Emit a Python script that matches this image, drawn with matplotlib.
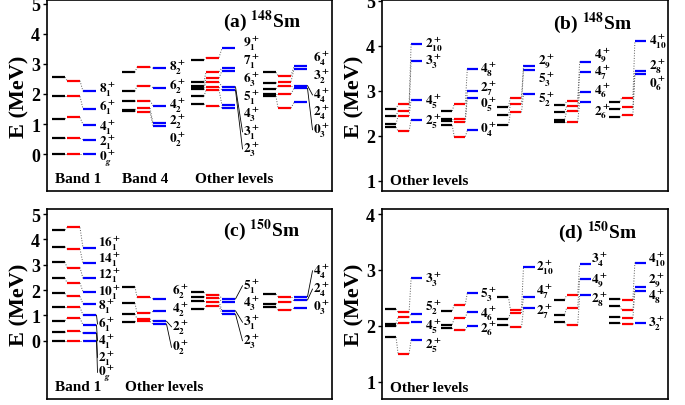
import numpy as np
import matplotlib.pyplot as plt

plt.rcParams['font.family'] = 'Liberation Serif'
plt.rcParams['font.weight'] = 'bold'
plt.rcParams['axes.labelweight'] = 'bold'
plt.rcParams['mathtext.fontset'] = 'stix'
plt.rcParams['mathtext.default'] = 'bf'

# ---- (a) 148Sm : Band 1, Band 4, other levels ----
a_black = [[0, 0.53, 1.17, 1.92, 2.56], [1.44, 1.48, 1.76, 2.09, 2.72],
           [1.67, 1.92, 2.15, 2.21, 2.27, 2.41, 3.13], [1.93, 2.0, 2.17, 2.36, 2.72]]
a_red = [[0, 0.52, 1.22, 1.92, 2.44], [1.4, 1.53, 1.78, 2.28, 2.9],
         [1.6, 2.14, 2.22, 2.4, 2.53, 2.74, 3.21], [1.53, 2.0, 2.28, 2.41, 2.61]]
a_blue = [[0, 0.48, 0.98, 1.5, 2.09], [0.94, 1.03, 1.61, 2.21, 2.86],
          [1.53, 1.62, 2.13, 2.24, 2.78, 2.87, 3.53], [1.72, 2.19, 2.28, 2.83, 2.92]]
a_labels = [[r'$0^+_{\mathit{g}}$', r'$2^+_1$', r'$4^+_1$', r'$6^+_1$', r'$8^+_1$'],
            [r'$0^+_2$', r'$2^+_2$', r'$4^+_2$', r'$6^+_2$', r'$8^+_2$'],
            [r'$2^+_3$', r'$3^+_1$', r'$4^+_3$', r'$5^+_1$', r'$6^+_3$', r'$7^+_1$', r'$9^+_1$'],
            [r'$0^+_3$', r'$2^+_4$', r'$4^+_4$', r'$3^+_2$', r'$6^+_4$']]
a_label_y = [[-0.11, 0.39, 0.92, 1.56, 2.17], [0.52, 1.11, 1.63, 2.26, 2.89],
             [0.17, 0.74, 1.33, 1.89, 2.52, 3.11, 3.7], [0.81, 1.39, 1.97, 2.61, 3.2]]
a_leader = [[None] * 5, [None] * 5,
            [2.13, 2.24, None, None, None, None, None], [2.19, None, 2.28, None, None]]

# ---- (b) 148Sm : other levels ----
b_black = [[2.19, 2.26, 2.43, 2.59], [2.23, 2.32, 2.37, 2.55], [2.23, 2.45, 2.65],
           [2.31, 2.36, 2.52, 2.68], [2.41, 2.6, 2.76]]
b_red = [[2.1, 2.44, 2.56, 2.7], [1.98, 2.3, 2.37, 2.71], [2.52, 2.7, 2.85],
         [2.31, 2.55, 2.66, 2.77], [2.46, 2.63, 2.85]]
b_blue = [[2.36, 2.8, 3.67, 4.04], [2.12, 2.85, 2.99, 3.49], [2.93, 3.47, 3.55],
          [2.74, 2.98, 3.41, 3.65], [3.37, 3.43, 4.11]]
b_labels = [[r'$2^+_5$', r'$4^+_5$', r'$3^+_3$', r'$2^+_{10}$'],
            [r'$0^+_4$', r'$0^+_5$', r'$2^+_7$', r'$4^+_8$'],
            [r'$5^+_2$', r'$5^+_3$', r'$2^+_9$'],
            [r'$2^+_6$', r'$4^+_6$', r'$4^+_7$', r'$4^+_9$'],
            [r'$0^+_6$', r'$2^+_8$', r'$4^+_{10}$']]
b_label_y = [[2.33, 2.78, 3.67, 4.04], [2.16, 2.7, 3.06, 3.48], [2.82, 3.26, 3.67],
             [2.57, 3.02, 3.41, 3.82], [3.19, 3.56, 4.11]]

# ---- (c) 150Sm : Band 1, other levels ----
c_black = [[0, 0.33, 0.79, 1.32, 1.87, 2.47, 3.11, 3.71, 4.37], [0.75, 1.05, 1.48, 2.13],
           [1.25, 1.55, 1.74, 1.91], [1.32, 1.45, 1.84]]
c_red = [[0, 0.37, 0.89, 1.32, 1.75, 2.28, 2.89, 3.62, 4.47], [0.76, 0.86, 1.09, 1.71],
         [1.38, 1.54, 1.69, 1.82], [1.21, 1.52, 1.74]]
c_blue = [[0, 0.3, 0.62, 1.01, 1.45, 1.93, 2.46, 3.05, 3.66], [0.66, 0.77, 1.16, 1.65],
          [1.05, 1.18, 1.51, 1.65], [1.29, 1.61, 1.74]]
c_labels = [[r'$0^+_{\mathit{g}}$', r'$2^+_1$', r'$4^+_1$', r'$6^+_1$', r'$8^+_1$',
             r'$10^+_1$', r'$12^+_1$', r'$14^+_1$', r'$16^+_1$'],
            [r'$0^+_2$', r'$2^+_2$', r'$4^+_2$', r'$6^+_2$'],
            [r'$2^+_3$', r'$3^+_1$', r'$4^+_3$', r'$5^+_1$'],
            [r'$0^+_3$', r'$2^+_4$', r'$4^+_4$']]
c_label_y = [[-1.25, -0.66, 0.0, 0.66, 1.38, 1.91, 2.59, 3.25, 3.88], [-0.26, 0.55, 1.25, 1.97],
             [0.0, 0.73, 1.48, 2.17], [1.32, 2.04, 2.76]]
c_leader = [[0, 0.3, 0.62, 1.01, None, None, None, None, None], [0.66, 0.77, None, None],
            [1.05, 1.18, None, 1.65], [None, 1.61, 1.74]]

# ---- (d) 150Sm : other levels ----
d_black = [[1.8, 1.99, 2.04, 2.3], [1.96, 2.02, 2.27], [2.02, 2.13, 2.52],
           [2.06, 2.2, 2.47], [2.05, 2.16, 2.35, 2.48]]
d_red = [[1.5, 2.05, 2.15, 2.24], [1.92, 2.14, 2.38], [1.97, 2.23, 2.28],
         [2.01, 2.32, 2.55], [2.03, 2.14, 2.28, 2.47]]
d_blue = [[1.75, 2.06, 2.21, 2.85], [2.0, 2.25, 2.59], [2.31, 2.51, 3.06],
          [2.55, 2.84, 3.1], [2.05, 2.63, 2.69, 3.13]]
d_labels = [[r'$2^+_5$', r'$4^+_5$', r'$5^+_2$', r'$3^+_3$'],
            [r'$2^+_6$', r'$4^+_6$', r'$5^+_3$'],
            [r'$2^+_7$', r'$4^+_7$', r'$2^+_{10}$'],
            [r'$2^+_8$', r'$4^+_9$', r'$3^+_4$'],
            [r'$3^+_2$', r'$4^+_8$', r'$2^+_9$', r'$4^+_{10}$']]
d_label_y = [[1.66, 2.0, 2.33, 2.84], [1.97, 2.24, 2.57], [2.27, 2.63, 3.05],
             [2.48, 2.84, 3.19], [2.06, 2.54, 2.84, 3.19]]


def draw(ax, black, red, blue, labels, label_y, starts, cols, width, lab_dx, leaders=None):
    for g in range(len(black)):
        x0 = starts[g]
        sets = [black[g], red[g], blue[g]]
        for c, color in enumerate(['black', 'red', 'blue']):
            xs = x0 + cols[c]
            for v in sets[c]:
                ax.plot([xs, xs + width], [v, v], color=color, lw=1.6, solid_capstyle='butt')
        # dotted links between columns
        for c in range(2):
            for v1, v2 in zip(sets[c], sets[c + 1]):
                ax.plot([x0 + cols[c] + width, x0 + cols[c + 1]], [v1, v2],
                        color='0.35', lw=0.7, ls=':')
        xl = x0 + lab_dx[g]
        for i, (t, y) in enumerate(zip(labels[g], label_y[g])):
            ax.text(xl, y, t, fontsize=9.5, va='center', ha='left')
            if leaders is not None and leaders[g][i] is not None:
                ax.plot([x0 + cols[2] + width + 0.5, xl - 0.5], [leaders[g][i], y],
                        color='k', lw=0.6)


def setup(ax, ylim, ticks, title, xt, yt):
    ax.set_xlim(0, 285)
    ax.set_ylim(*ylim)
    ax.set_xticks([])
    ax.set_yticks(ticks)
    ax.tick_params(axis='y', labelsize=13, length=3, width=1, pad=2)
    for lbl in ax.get_yticklabels():
        lbl.set_fontweight('bold')
    for s in ax.spines.values():
        s.set_linewidth(1.2)
    ax.set_ylabel('E (MeV)', fontsize=16, fontweight='bold', labelpad=1)
    ax.text(xt, yt, title, transform=ax.transAxes, fontsize=14, va='center', ha='left')


fig = plt.figure(figsize=(6.85, 4.06), dpi=100)
ax_a = fig.add_axes([47 / 685, 1 - 192 / 406, 285 / 685, 191 / 406])
ax_b = fig.add_axes([382 / 685, 1 - 192 / 406, 286 / 685, 191 / 406])
ax_c = fig.add_axes([47 / 685, 6 / 406, 285 / 685, 190 / 406])
ax_d = fig.add_axes([382 / 685, 6 / 406, 286 / 685, 190 / 406])

wide = [5, 75, 144, 216]
narrow = [3, 59, 115, 171, 226]

draw(ax_a, a_black, a_red, a_blue, a_labels, a_label_y, wide, [0, 15, 31], 13,
     [47, 47, 52, 50], a_leader)
setup(ax_a, (-1.23, 5.13), [0, 1, 2, 3, 4, 5], r'(a) $^{148}$Sm', 0.617, 0.895)
ax_a.text(8, -0.83, 'Band 1', fontsize=11, va='center')
ax_a.text(75, -0.83, 'Band 4', fontsize=11, va='center')
ax_a.text(148, -0.83, 'Other levels', fontsize=11, va='center')

draw(ax_b, b_black, b_red, b_blue, b_labels, b_label_y, narrow, [0, 13, 26], 11,
     [40, 39, 40, 40, 40])
setup(ax_b, (0.77, 5.02), [1, 2, 3, 4, 5], r'(b) $^{148}$Sm', 0.598, 0.885)
ax_b.text(8, 1.0, 'Other levels', fontsize=11, va='center')

draw(ax_c, c_black, c_red, c_blue, c_labels, c_label_y, wide, [0, 15, 31], 13,
     [46, 50, 52, 50], c_leader)
setup(ax_c, (-2.3, 5.2), [0, 1, 2, 3, 4, 5], r'(c) $^{150}$Sm', 0.617, 0.895)
ax_c.text(8, -1.82, 'Band 1', fontsize=11, va='center')
ax_c.text(78, -1.82, 'Other levels', fontsize=11, va='center')

draw(ax_d, d_black, d_red, d_blue, d_labels, d_label_y, narrow, [0, 13, 26], 11,
     [40, 39, 38, 37, 39])
setup(ax_d, (0.69, 4.09), [1, 2, 3, 4], r'(d) $^{150}$Sm', 0.615, 0.884)
ax_d.text(8, 0.9, 'Other levels', fontsize=11, va='center')

fig.savefig('out.png', dpi=100)
